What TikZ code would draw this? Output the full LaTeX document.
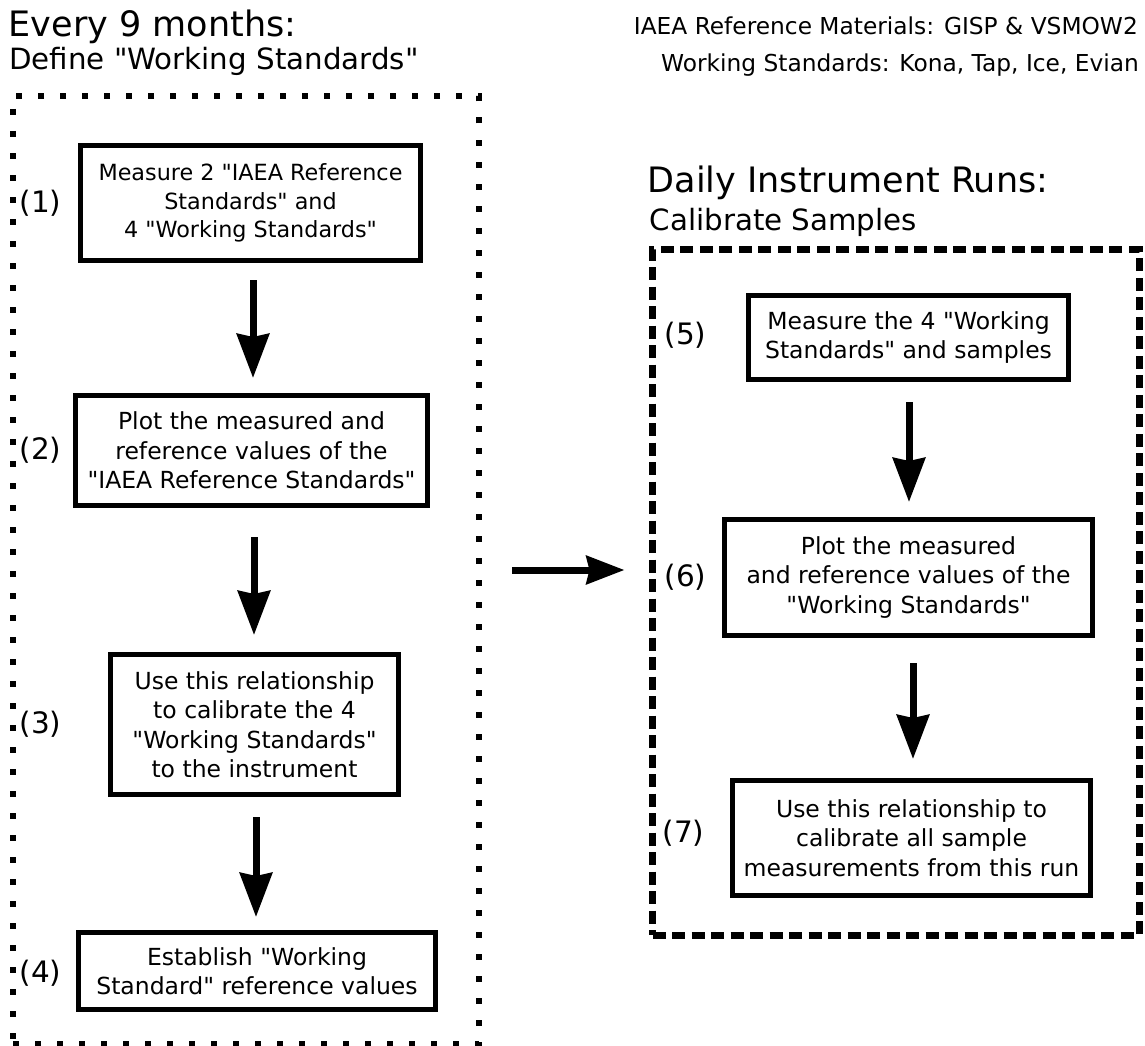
\documentclass[tikz,border=0pt]{standalone}
\usepackage{fontspec}
\setmainfont{DejaVu Sans}
\newfontfamily\dv{DejaVu Sans}
\usetikzlibrary{arrows.meta}
\tikzset{
  stepbox/.style={draw, line width=5pt, inner sep=0pt, align=center,
    font=\dv\fontsize{23.5}{29.5}\selectfont},
  steplabel/.style={anchor=west, inner sep=0pt, font=\dv\fontsize{29.5}{31}\selectfont},
  varrow/.style={line width=7pt, -{Stealth[length=44pt,width=32pt,inset=3pt]}},
  harrow/.style={line width=7pt, -{Stealth[length=38pt,width=28pt,inset=3pt]}},
  dotframe/.style={draw, line width=6pt, dash pattern=on 6pt off 16pt, inner sep=0pt},
  dashframe/.style={draw, line width=7pt, dash pattern=on 13pt off 6.5pt, inner sep=0pt},
  titletext/.style={inner sep=0pt, font=\dv\fontsize{35}{40}\selectfont},
  subtext/.style={inner sep=0pt, font=\dv\fontsize{29.3}{34}\selectfont},
  headtext/.style={inner sep=0pt, font=\dv\fontsize{23.3}{28}\selectfont},
}
\begin{document}
\begin{tikzpicture}[x=1pt,y=-1pt]
\useasboundingbox (0,0) rectangle (1145,1046);
% frames
\node[dotframe, minimum width=465.5pt, minimum height=948pt] (lf) at (245.75,570) {};
\node[dashframe, minimum width=486.5pt, minimum height=686pt] (rf) at (895.75,592) {};
% titles
\node[titletext, anchor=base west] (t1) at (8.6,37) {Every 9 months:};
\node[subtext, anchor=base west] (t2) at (9,70) {Define "Working Standards"};
\node[headtext, anchor=base east] (h1) at (1138,35) {IAEA Reference Materials: GISP \& VSMOW2};
\node[headtext, anchor=base east] (h2) at (1139,72) {Working Standards: Kona, Tap, Ice, Evian};
\node[titletext, anchor=base west] (t3) at (647.5,192) {Daily Instrument Runs:};
\node[subtext, anchor=base west] (t4) at (649.5,230) {Calibrate Samples};
% left boxes
\node[stepbox, font=\dv\fontsize{22.3}{28.5}\selectfont, minimum width=340pt, minimum height=115pt] (b1) at (250.5,203)
  {Measure 2 "IAEA Reference\\Standards" and\\4 "Working Standards"};
\node[stepbox, minimum width=352pt, minimum height=110pt] (b2) at (251.5,450.5)
  {Plot the measured and\\reference values of the\\"IAEA Reference Standards"};
\node[stepbox, minimum width=288pt, minimum height=140pt] (b3) at (254.5,724.5)
  {Use this relationship\\to calibrate the 4\\"Working Standards"\\to the instrument};
\node[stepbox, minimum width=357pt, minimum height=77pt] (b4) at (257,971)
  {Establish "Working\\Standard" reference values};
% right boxes
\node[stepbox, minimum width=320pt, minimum height=84pt] (b5) at (908.5,337.5)
  {Measure the 4 "Working\\Standards" and samples};
\node[stepbox, minimum width=368pt, minimum height=116pt] (b6) at (908.5,577.5)
  {Plot the measured\\and reference values of the\\"Working Standards"};
\node[stepbox, minimum width=358pt, minimum height=115pt] (b7) at (911.5,838)
  {Use this relationship to\\calibrate all sample\\measurements from this run};
% step labels
\node[steplabel] (l1) at (19.5,203) {(1)};
\node[steplabel] (l2) at (19.5,450) {(2)};
\node[steplabel] (l3) at (19.5,724) {(3)};
\node[steplabel] (l4) at (19.5,973) {(4)};
\node[steplabel] (l5) at (664.5,335) {(5)};
\node[steplabel] (l6) at (664.5,577) {(6)};
\node[steplabel] (l7) at (662.5,833) {(7)};
% arrows
\draw[varrow, shorten <=17pt, shorten >=15pt] ([xshift=2.5pt]b1.south) -- ([xshift=2.5pt]b1.south |- b2.north);
\draw[varrow, shorten <=29pt, shorten >=17pt] ([xshift=2.5pt]b2.south) -- ([xshift=2.5pt]b2.south |- b3.north);
\draw[varrow, shorten <=20pt, shorten >=13pt] ([xshift=1.5pt]b3.south) -- ([xshift=1.5pt]b3.south |- b4.north);
\draw[varrow, shorten <=20pt, shorten >=15pt] ([xshift=0.5pt]b5.south) -- ([xshift=0.5pt]b5.south |- b6.north);
\draw[varrow, shorten <=25pt, shorten >=19pt] ([xshift=4.5pt]b6.south) -- ([xshift=4.5pt]b6.south |- b7.north);
\coordinate (hy) at (0,570);
\draw[harrow, shorten <=30.5pt, shorten >=24.5pt] (lf.east |- hy) -- (rf.west |- hy);
\end{tikzpicture}
\end{document}
